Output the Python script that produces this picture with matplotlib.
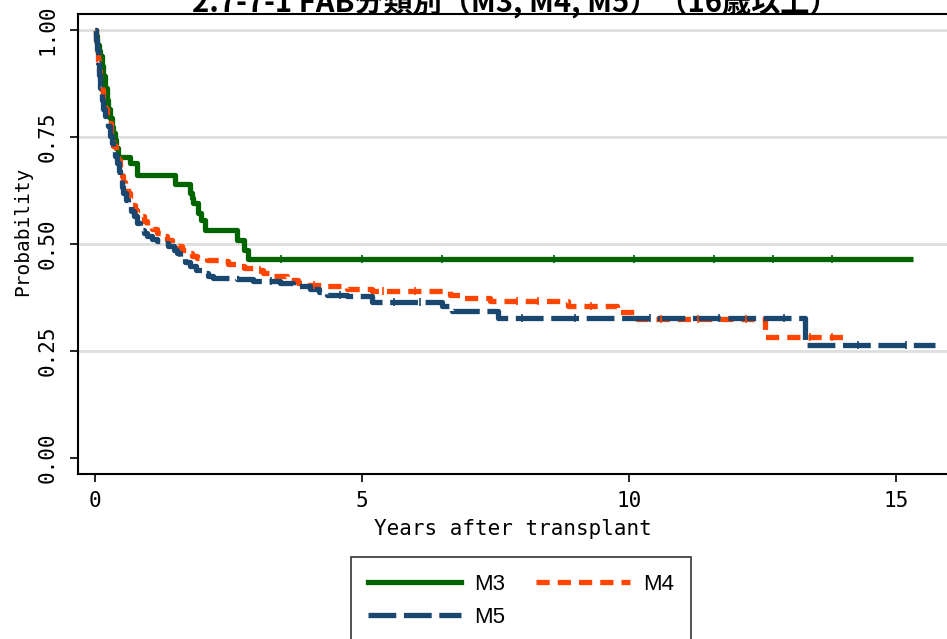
import matplotlib
matplotlib.use("Agg")
import matplotlib.pyplot as plt
from matplotlib.lines import Line2D

plt.rcParams["lines.scale_dashes"] = False

# Kaplan-Meier step data (years after transplant, survival probability)
m3_t = [0.0, 0.02, 0.05, 0.08, 0.10, 0.13, 0.165, 0.20, 0.23, 0.26, 0.29, 0.32, 0.35,
        0.384, 0.41, 0.446, 0.665, 0.79, 1.51, 1.79, 1.82, 1.85, 1.94, 2.00, 2.07,
        2.66, 2.79, 2.88, 15.33]
m3_s = [1.0, 0.985, 0.965, 0.95, 0.94, 0.915, 0.892, 0.865, 0.836, 0.815, 0.795, 0.774,
        0.76, 0.743, 0.725, 0.704, 0.689, 0.661, 0.640, 0.618, 0.607, 0.595, 0.572,
        0.556, 0.533, 0.509, 0.486, 0.464, 0.464]

m4_t = [0.0, 0.02, 0.04, 0.06, 0.08, 0.10, 0.13, 0.165, 0.20, 0.23, 0.26, 0.30, 0.35,
        0.40, 0.446, 0.48, 0.51, 0.54, 0.57, 0.62, 0.665, 0.71, 0.76, 0.80, 0.85, 0.92,
        0.98, 1.07, 1.16, 1.25, 1.35, 1.45, 1.54, 1.64, 1.73, 1.82, 1.91, 2.10, 2.35,
        2.50, 2.66, 2.80, 2.97, 3.15, 3.35, 3.60, 3.80, 3.97, 4.35, 4.72, 5.20, 6.66,
        6.90, 7.40, 8.87, 9.78, 10.16, 12.55, 14.15]
m4_s = [1.0, 0.975, 0.953, 0.93, 0.905, 0.883, 0.86, 0.836, 0.815, 0.80, 0.782, 0.755,
        0.728, 0.71, 0.697, 0.675, 0.658, 0.646, 0.635, 0.62, 0.604, 0.592, 0.58, 0.572,
        0.565, 0.553, 0.542, 0.534, 0.526, 0.518, 0.51, 0.502, 0.495, 0.487, 0.479,
        0.473, 0.467, 0.463, 0.46, 0.454, 0.448, 0.444, 0.44, 0.432, 0.425, 0.417, 0.41,
        0.405, 0.401, 0.394, 0.390, 0.381, 0.373, 0.366, 0.355, 0.342, 0.325, 0.282, 0.282]

m5_t = [0.0, 0.02, 0.04, 0.07, 0.09, 0.11, 0.13, 0.165, 0.20, 0.245, 0.29, 0.32, 0.35,
        0.38, 0.415, 0.45, 0.48, 0.51, 0.54, 0.585, 0.63, 0.68, 0.73, 0.79, 0.85, 0.92,
        0.98, 1.07, 1.16, 1.29, 1.38, 1.48, 1.54, 1.60, 1.70, 1.79, 1.90, 2.04, 2.12,
        2.22, 2.66, 2.97, 3.47, 3.72, 4.04, 4.20, 4.35, 4.72, 5.19, 6.50, 6.70, 7.55,
        13.30, 15.74]
m5_s = [1.0, 0.977, 0.955, 0.922, 0.895, 0.865, 0.836, 0.815, 0.798, 0.775, 0.752,
        0.736, 0.72, 0.705, 0.689, 0.67, 0.65, 0.634, 0.618, 0.603, 0.588, 0.576, 0.565,
        0.549, 0.533, 0.525, 0.518, 0.512, 0.506, 0.502, 0.495, 0.487, 0.479, 0.47,
        0.459, 0.448, 0.44, 0.432, 0.426, 0.42, 0.418, 0.413, 0.409, 0.401, 0.394, 0.387,
        0.381, 0.379, 0.364, 0.354, 0.343, 0.327, 0.264, 0.264]

# censored observation times
m3_cens = [3.5, 5.0, 6.5, 8.6, 10.1, 11.6, 12.7, 13.8]
m4_cens = [3.1, 4.1, 5.4, 6.0, 7.9, 8.3, 9.3, 10.6, 11.3, 12.2, 13.4, 13.8]
m5_cens = [3.3, 4.6, 5.6, 6.1, 8.0, 9.0, 10.4, 11.7, 12.9, 14.3, 15.2]

labels = ["M3", "M4", "M5"]
colors = ["#006400", "#ff4500", "#1a476f"]

title = "2.7-7-1 FAB分類別（M3, M4, M5）（16歳以上）"
xlabel = "Years after transplant"
ylabel = "Probability"
xticks = [0, 5, 10, 15]
yticks = [0.0, 0.25, 0.5, 0.75, 1.0]
ytick_labels = ["0.00", "0.25", "0.50", "0.75", "1.00"]

mono = "DejaVu Sans Mono"

fig = plt.figure(figsize=(9.47, 6.39), dpi=100)
ax = fig.add_axes([78 / 947, 1 - 474 / 639, 1 - 78 / 947, (474 - 14) / 639])

lw = 3.8
styles = [
    dict(linestyle="-"),
    dict(dashes=(9.5, 5.8)),
    dict(dashes=(20, 5.5)),
]


def surv_at(ts, ss, x):
    val = ss[0]
    for t, s in zip(ts, ss):
        if t <= x:
            val = s
    return val


series = [(m3_t, m3_s, m3_cens), (m4_t, m4_s, m4_cens), (m5_t, m5_s, m5_cens)]
handles = []
for (ts, ss, cens), lab, col, sty in zip(series, labels, colors, styles):
    ax.step(ts, ss, where="post", color=col, lw=lw, solid_capstyle="butt",
            dash_capstyle="butt", zorder=3, **sty)
    cy = [surv_at(ts, ss, c) for c in cens]
    ax.plot(cens, cy, linestyle="none", marker="|", markersize=6, mew=1.2,
            color=col, zorder=4)
    handles.append(Line2D([0], [0], color=col, lw=lw, dash_capstyle="butt", **sty))

ax.set_xlim(-0.31, 15.96)
ax.set_ylim(-0.0374, 1.0374)

for y in yticks[1:]:
    ax.axhline(y, color="#dedede", lw=2.0, zorder=1)

ax.set_xticks(xticks)
ax.set_xticklabels([str(v) for v in xticks], fontfamily=mono, fontsize=15)
ax.set_yticks(yticks)
ax.set_yticklabels(ytick_labels, fontfamily=mono, fontsize=15, rotation=90, va="center")
ax.tick_params(axis="both", direction="out", length=6, width=1.2, color="black")
ax.tick_params(axis="x", pad=6)
ax.tick_params(axis="y", pad=9)

for side in ["left", "bottom", "top"]:
    ax.spines[side].set_linewidth(1.5)
    ax.spines[side].set_color("black")
ax.spines["right"].set_visible(False)

ax.set_xlabel(xlabel, fontfamily=mono, fontsize=15, labelpad=6)
ax.set_ylabel(ylabel, fontfamily=mono, fontsize=14, va="center")
ax.yaxis.set_label_coords(-0.064, 0.528)

fig.text(0.544, 1 - 12 / 639, title, ha="center", va="baseline", fontsize=21,
         fontweight="bold", family=["Noto Sans CJK JP", "DejaVu Sans"])

# column-wise fill: M3 / M5 in the first column, M4 in the second
order = [0, 2, 1]
leg = fig.legend([handles[i] for i in order], [labels[i] for i in order],
                 ncol=2, loc="upper left",
                 bbox_to_anchor=(351 / 947, 1 - 557 / 639),
                 borderaxespad=0.0,
                 frameon=True, fancybox=False, edgecolor="black",
                 handlelength=4.2, handletextpad=0.6, columnspacing=1.4,
                 borderpad=0.75, labelspacing=0.55,
                 prop=dict(family="Liberation Sans", size=16))
leg.get_frame().set_linewidth(1.2)

fig.savefig("out.png", dpi=100)
